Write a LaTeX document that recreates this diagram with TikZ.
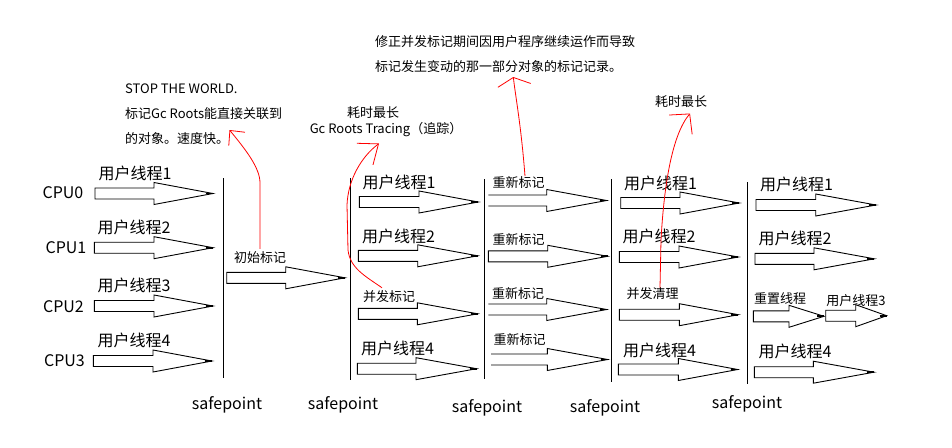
\documentclass[tikz,border=0pt]{standalone}
\usepackage{fontspec}
\setmainfont{Noto Sans CJK SC}
\usetikzlibrary{arrows.meta}

% block arrow: x, y (middle of the left end), length, start of the head
\newcommand{\blkarrow}[4]{%
  \draw[blk] (#1,#2-5.5) -- (#1+#4,#2-5.5) -- (#1+#4,#2-11) -- (#1+#3,#2)
    -- (#1+#4,#2+11) -- (#1+#4,#2+5.5) -- (#1,#2+5.5) -- cycle;
  \draw[line width=1.8pt] (#1+#3-7,#2) -- (#1+#3,#2);}
% same, left end left open
\newcommand{\blkarrowopen}[4]{%
  \draw[blk] (#1,#2-5.5) -- (#1+#4,#2-5.5) -- (#1+#4,#2-11) -- (#1+#3,#2)
    -- (#1+#4,#2+11) -- (#1+#4,#2+5.5) -- (#1,#2+5.5);
  \draw[line width=1.8pt] (#1+#3-7,#2) -- (#1+#3,#2);}

\begin{document}
\begin{tikzpicture}[x=1pt,y=-1pt,
  every node/.style={inner sep=0pt},
  thread/.style={font=\fontsize{16}{19}\selectfont},
  phase/.style={font=\fontsize{13}{16}\selectfont},
  notetext/.style={font=\fontsize{13}{25}\selectfont,align=left},
  blk/.style={draw=black,line width=0.9pt,line join=miter},
  sp/.style={line width=1.1pt},
  redarr/.style={red,line width=0.8pt}]
\useasboundingbox (0,0) rectangle (952,447);

\node[thread] (cpu0) at (63,193) {CPU0};
\node[thread] (cpu1) at (66,248) {CPU1};
\node[thread] (cpu2) at (63.5,307) {CPU2};
\node[thread] (cpu3) at (64.5,361) {CPU3};

\node[thread] (u11) at (135,173) {用户线程1};
\node[thread] (u12) at (134,227) {用户线程2};
\node[thread] (u13) at (134,285) {用户线程3};
\node[thread] (u14) at (134,340) {用户线程4};
\node[phase] (init) at (260,258) {初始标记};

\node[thread] (u21) at (399,182) {用户线程1};
\node[thread] (u22) at (398.5,236) {用户线程2};
\node[phase] (conc) at (389,297) {并发标记};
\node[thread] (u24) at (397.5,348) {用户线程4};

\node[phase] (re1) at (518.5,182.3) {重新标记};
\node[phase] (re2) at (518.5,240) {重新标记};
\node[phase] (re3) at (518,294) {重新标记};
\node[phase] (re4) at (519.5,339.3) {重新标记};

\node[thread] (u41) at (660.5,183.3) {用户线程1};
\node[thread] (u42) at (659,236.7) {用户线程2};
\node[phase] (clean) at (652.5,294) {并发清理};
\node[thread] (u44) at (659.5,350) {用户线程4};

\node[thread] (u51) at (796.5,184.3) {用户线程1};
\node[thread] (u52) at (795,238.3) {用户线程2};
\node[phase] (reset) at (780,298.3) {重置线程};
\node[phase] (u53) at (856,300.7) {用户线程3};
\node[thread] (u54) at (795,351.7) {用户线程4};

\node[thread] (sp1) at (227,405) {safepoint};
\node[thread] (sp2) at (343,405) {safepoint};
\node[thread] (sp3) at (487,408) {safepoint};
\node[thread] (sp4) at (605,408) {safepoint};
\node[thread] (sp5) at (747,404) {safepoint};

\node[notetext,anchor=west] (stw) at (125,114.5)
  {STOP THE WORLD.\\标记Gc Roots能直接关联到\\的对象。速度快。};
\node[phase] (long1) at (373,112.7) {耗时最长};
\node[phase] (trace) at (386,129.3) {Gc Roots Tracing（追踪）};
\node[notetext,anchor=west] (fix) at (375,54.2)
  {修正并发标记期间因用户程序继续运作而导致\\标记发生变动的那一部分对象的标记记录。};
\node[phase] (long2) at (681,101.7) {耗时最长};

\foreach \x/\ya/\yb in {223.3/178/378, 350.7/178/380, 484.3/179/379,
                        611.7/179/382, 747.3/182/384}
  \draw[sp] (\x,\ya) -- (\x,\yb);

\blkarrow{95}{193.5}{118}{59}
\blkarrow{94.3}{247.7}{118.7}{59.7}
\blkarrow{94.3}{306}{118.7}{59.7}
\blkarrow{93.3}{361}{118.7}{59.7}
\blkarrow{226.7}{277.8}{118.3}{59}

\blkarrow{359.3}{202}{119}{59.7}
\blkarrow{358.3}{255.8}{119.4}{59.4}
\blkarrow{358.3}{313.8}{119.4}{59}
\blkarrow{357.3}{368.7}{119.4}{58.7}

\blkarrowopen{488.3}{200.5}{118.4}{58.4}
\blkarrow{488.3}{256.3}{119.4}{59.4}
\blkarrowopen{488.3}{309.5}{118.4}{58.4}
\blkarrowopen{491}{359.5}{116.7}{56.3}

\blkarrow{620.7}{203}{118.6}{59.3}
\blkarrow{619.3}{257}{119}{59.7}
\blkarrow{619.3}{314.7}{119}{60}
\blkarrow{618.3}{369.5}{119.4}{60}

\blkarrow{756}{205}{120}{59.7}
\blkarrow{755}{258.8}{119.3}{59}
\blkarrow{753.3}{316.3}{70.7}{35.7}
\blkarrow{825.7}{315.7}{61}{30}
\blkarrow{754.3}{372.2}{119.7}{59}

\coordinate (tip1) at (229.5,130);
\coordinate (tip2) at (379,143.5);
\coordinate (tip3) at (513.3,77);
\coordinate (tip4) at (690,113.5);

\draw[redarr,-{Straight Barb[length=11pt,width=21pt]}] ([yshift=3pt]init.north)
  -- (260,183) .. controls (260,168) and (246,150) .. (tip1);
\draw[redarr,-{Straight Barb[length=17pt,width=27pt]}] ([xshift=-7pt,yshift=3pt]conc.north)
  .. controls (365,276) and (350,268) .. (348,250) -- (347,205)
  .. controls (348,180) and (361,157) .. (tip2);
\draw[redarr,-{Straight Barb[length=8pt,width=33pt]}] ([xshift=6.5pt]re1.north)
  .. controls (521,125) and (516,100) .. (tip3);
\draw[redarr,-{Straight Barb[length=14pt,width=30pt]}] ([xshift=7.5pt]clean.north)
  -- (661,240) .. controls (664,185) and (672,135) .. (tip4);
\end{tikzpicture}
\end{document}
